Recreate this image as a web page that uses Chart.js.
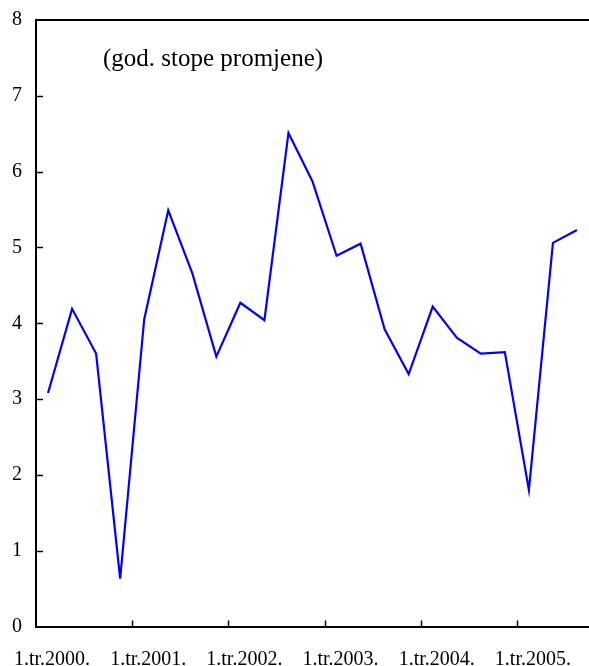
<!DOCTYPE html>
<html>
<head>
<meta charset="utf-8">
<script src="https://cdn.jsdelivr.net/npm/chart.js@4"></script>
<style>
  html, body { margin: 0; padding: 0; background: #fff; overflow: hidden; }
  #wrap { width: 589px; height: 666px; position: relative; }
</style>
</head>
<body>
<div id="wrap"><canvas id="chart"></canvas></div>
<script>
// quarters 1.tr.2000. - 3.tr.2005.
const quarters = [
  "1.tr.2000.", "2.tr.2000.", "3.tr.2000.", "4.tr.2000.",
  "1.tr.2001.", "2.tr.2001.", "3.tr.2001.", "4.tr.2001.",
  "1.tr.2002.", "2.tr.2002.", "3.tr.2002.", "4.tr.2002.",
  "1.tr.2003.", "2.tr.2003.", "3.tr.2003.", "4.tr.2003.",
  "1.tr.2004.", "2.tr.2004.", "3.tr.2004.", "4.tr.2004.",
  "1.tr.2005.", "2.tr.2005.", "3.tr.2005."
];
const growth = [
  3.08, 4.19, 3.60, 0.63,
  4.05, 5.49, 4.66, 3.56,
  4.27, 4.04, 6.51, 5.87,
  4.89, 5.05, 3.92, 3.33,
  4.22, 3.81, 3.60, 3.62,
  1.80, 5.06, 5.23
];
const yTicks = [0, 1, 2, 3, 4, 5, 6, 7, 8];
const note = "(god. stope promjene)";

const font = "Liberation Serif, Times New Roman, serif";

// inward tick marks, top frame line and the note inside the plot
const frame = {
  id: "frame",
  afterDraw(chart) {
    const c = chart.ctx;
    const area = chart.chartArea;
    const x = chart.scales.x;
    const y = chart.scales.y;
    c.save();
    c.strokeStyle = "#000";
    c.lineWidth = 2;
    c.beginPath();
    c.moveTo(area.left - 1, area.top);
    c.lineTo(area.right, area.top);
    c.stroke();

    c.lineWidth = 1.5;
    yTicks.forEach((v) => {
      if (v === 0 || v === 8) return;
      const py = Math.round(y.getPixelForValue(v)) + 0.5;
      c.beginPath();
      c.moveTo(area.left, py);
      c.lineTo(area.left + 7, py);
      c.stroke();
    });
    for (let i = 4; i < quarters.length; i += 4) {
      const px = Math.round((x.getPixelForValue(i - 1) + x.getPixelForValue(i)) / 2) + 0.5;
      c.beginPath();
      c.moveTo(px, area.bottom);
      c.lineTo(px, area.bottom - 6);
      c.stroke();
    }

    c.fillStyle = "#000";
    c.font = "25px " + font;
    c.textBaseline = "middle";
    c.textAlign = "left";
    c.fillText(note, area.left + 67, y.getPixelForValue(7.48));
    c.restore();
  }
};

new Chart(document.getElementById("chart"), {
  type: "line",
  data: {
    labels: quarters,
    datasets: [
      {
        data: growth,
        borderColor: "#0000FF",
        borderWidth: 2.2,
        pointRadius: 0,
        tension: 0,
        fill: false,
      },
    ],
  },
  options: {
    responsive: true,
    maintainAspectRatio: false,
    animation: false,
    layout: { padding: { top: 20, right: 0, left: 0, bottom: 0 } },
    scales: {
      x: {
        offset: true,
        grid: { display: true, drawOnChartArea: false, drawTicks: false },
        border: { display: true, color: "#000", width: 2 },
        afterFit(scale) {
          scale.height = 39.5;
          scale.paddingLeft = 0;
          scale.paddingRight = 0;
        },
        ticks: {
          autoSkip: false,
          maxRotation: 0,
          padding: 21,
          labelOffset: 4,
          color: "#000",
          font: { family: font, size: 20 },
          callback: (v, i) => (i % 4 === 0 ? quarters[i] : ""),
        },
      },
      y: {
        min: 0,
        max: 8,
        grid: { display: true, drawOnChartArea: false, drawTicks: false },
        border: { display: true, color: "#000", width: 2 },
        afterFit(scale) {
          scale.width = 36;
          scale.paddingTop = 0;
          scale.paddingBottom = 0;
        },
        afterBuildTicks(scale) { scale.ticks = yTicks.map((v) => ({ value: v })); },
        ticks: {
          padding: 14,
          color: "#000",
          font: { family: font, size: 20 },
        },
      },
    },
    plugins: {
      legend: { display: false },
      tooltip: { enabled: false },
    },
  },
  plugins: [frame],
});
</script>
</body>
</html>
